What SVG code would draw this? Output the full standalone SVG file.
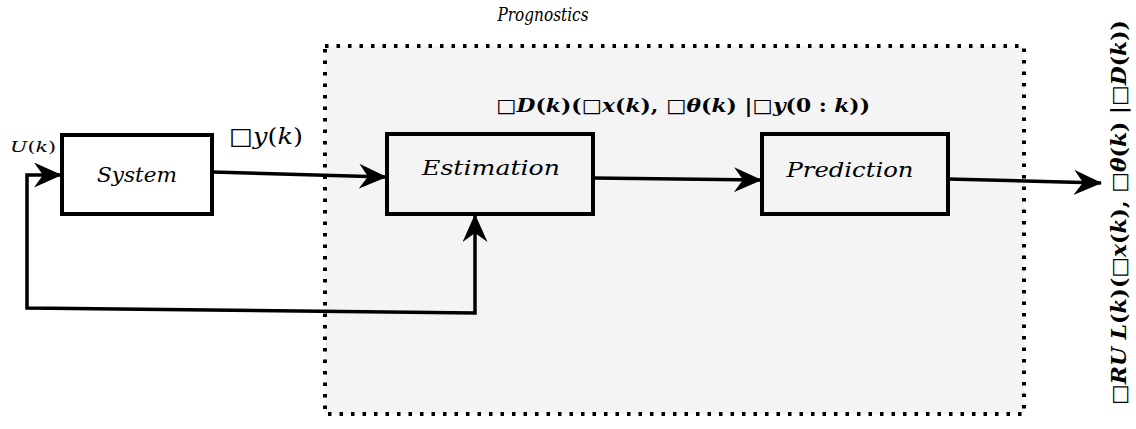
<svg xmlns="http://www.w3.org/2000/svg" width="1136" height="429" viewBox="0 0 1136 429">
<style>
.box{fill:none;stroke:#000;stroke-width:4}
.wire{fill:none;stroke:#000;stroke-width:3.5}
.it{font-family:'DejaVu Serif','Liberation Serif',serif;font-style:italic;fill:#000}
.bi{font-family:'DejaVu Serif','Liberation Serif',serif;font-style:italic;font-weight:bold;fill:#000}
.up{font-style:normal}
</style>
<defs>
<marker id="ah" markerUnits="userSpaceOnUse" viewBox="0 0 28 25" refX="27" refY="12.5" markerWidth="28" markerHeight="25" orient="auto-start-reverse">
<path d="M0,0 L28,12.5 L0,25 L9,12.5 Z" fill="#000"/>
</marker>
</defs>
<rect width="1136" height="429" fill="#fff"/>
<g id="prognostics">
<rect x="325" y="46" width="699" height="368" fill="#f4f4f4" stroke="#000" stroke-width="4" stroke-dasharray="3.5 8"/>
<text class="it" x="543" y="21" font-size="18" text-anchor="middle" textLength="91" lengthAdjust="spacingAndGlyphs">Prognostics</text>
</g>
<g id="connectors">
<path class="wire" d="M212,172 L386,177" marker-end="url(#ah)"/>
<path class="wire" d="M593,178 L761,180" marker-end="url(#ah)"/>
<path class="wire" d="M948,179 L1101,183" marker-end="url(#ah)"/>
<path class="wire" d="M61,175 L27,175 L27,308 L475,313 L475,215" marker-start="url(#ah)" marker-end="url(#ah)"/>
</g>
<g id="system">
<rect class="box" x="62" y="135" width="150" height="79" fill="#fff"/>
<text class="it" x="137" y="182" font-size="20" text-anchor="middle" textLength="80" lengthAdjust="spacingAndGlyphs">System</text>
</g>
<g id="estimation">
<rect class="box" x="387" y="134" width="206" height="80"/>
<text class="it" x="491" y="175" font-size="21" text-anchor="middle" textLength="138" lengthAdjust="spacingAndGlyphs">Estimation</text>
</g>
<g id="prediction">
<rect class="box" x="762" y="134" width="186" height="80"/>
<text class="it" x="850" y="177" font-size="21" text-anchor="middle" textLength="127" lengthAdjust="spacingAndGlyphs">Prediction</text>
</g>
<g id="labels">
<text class="it" x="10" y="152" font-size="14" textLength="46" lengthAdjust="spacingAndGlyphs">U<tspan class="up">(</tspan>k<tspan class="up">)</tspan></text>
<text class="it" x="229" y="144" font-size="23" textLength="74" lengthAdjust="spacingAndGlyphs"><tspan class="up">□</tspan>y<tspan class="up">(</tspan>k<tspan class="up">)</tspan></text>
<text class="bi" x="496" y="112" font-size="19" textLength="374" lengthAdjust="spacingAndGlyphs"><tspan class="up">□</tspan>D<tspan class="up">(</tspan>k<tspan class="up">)(□</tspan>x<tspan class="up">(</tspan>k<tspan class="up">), □</tspan>θ<tspan class="up">(</tspan>k<tspan class="up">) |□</tspan>y<tspan class="up">(0 : </tspan>k<tspan class="up">))</tspan></text>
<text class="bi" transform="translate(1126,405) rotate(-90)" x="0" y="0" font-size="20" textLength="385" lengthAdjust="spacingAndGlyphs"><tspan class="up">□</tspan>RU L<tspan class="up">(</tspan>k<tspan class="up">)(□</tspan>x<tspan class="up">(</tspan>k<tspan class="up">), □</tspan>θ<tspan class="up">(</tspan>k<tspan class="up">) |□</tspan>D<tspan class="up">(</tspan>k<tspan class="up">))</tspan></text>
</g>
</svg>
